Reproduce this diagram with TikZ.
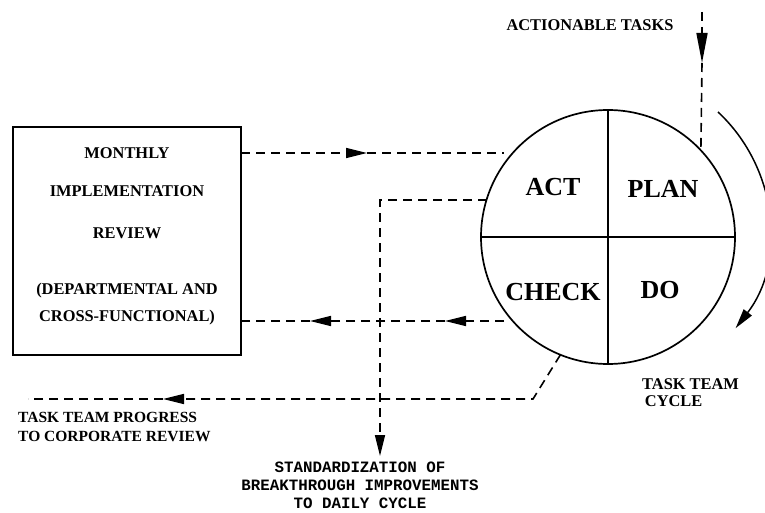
\documentclass[tikz,border=0pt]{standalone}
\usepackage{fontspec}
\setmainfont{Liberation Serif}
\setmonofont{Liberation Mono}
\usetikzlibrary{arrows.meta}
\begin{document}
\begin{tikzpicture}[x=1pt,y=-1pt,
  lbl/.style={font=\fontsize{16.4}{17.5}\selectfont\bfseries, inner sep=0pt},
  big/.style={font=\fontsize{26}{28}\selectfont\bfseries, inner sep=0pt},
  mono/.style={font=\fontsize{15.8}{18}\selectfont\ttfamily\bfseries, inner sep=0pt, align=center},
  dsh/.style={dash pattern=on 9pt off 6pt, line width=1.6pt},
  tip/.style={-{Triangle[length=21pt,width=10pt]}},
  longtip/.style={-{Triangle[length=30pt,width=11pt]}},
  solidline/.style={line width=1.7pt},
]
\clip (0,0) rectangle (765,513);
\useasboundingbox (0,0) rectangle (765,513);

% main shapes
\node[circle, draw, solidline, minimum size=254pt, inner sep=0pt, outer sep=0pt] (pdca) at (608,237) {};
\draw[solidline] (pdca.north) -- (pdca.south);
\draw[solidline] (pdca.west) -- (pdca.east);
\node[draw, line width=1.4pt, minimum width=228pt, minimum height=228pt, inner sep=0pt, outer sep=0pt] (review) at (127,241) {};

% labels in circle
\node[big] (act) at (553,187) {ACT};
\node[big] (plan) at (663,189) {PLAN};
\node[big] (check) at (553,292) {CHECK};
\node[big] (do) at (660,290) {DO};

% box text
\node[lbl, align=center, font=\fontsize{16.4}{27}\selectfont\bfseries] (reviewtxt) at (127,236)
  {MONTHLY\\[11pt] IMPLEMENTATION\\[15pt] REVIEW\\[29pt] (DEPARTMENTAL AND\\ CROSS-FUNCTIONAL)};

% other labels
\node[lbl] (actionable) at (590,25) {ACTIONABLE TASKS};
\node[lbl, align=left, anchor=north west, font=\fontsize{15.5}{19}\selectfont\bfseries] (progress) at (18,412) {TASK TEAM PROGRESS\\TO CORPORATE REVIEW};
\node[lbl, align=left, anchor=north west] (cycle) at (642,378) {TASK TEAM\\\,CYCLE};
\node[mono, anchor=north] (std) at (360,462) {STANDARDIZATION OF\\BREAKTHROUGH IMPROVEMENTS\\TO DAILY CYCLE};

% coordinates
\coordinate (atop) at (702,12);
\coordinate (amid) at (702,63);
\coordinate (m1) at (367,153);
\coordinate (m2a) at (445,321);
\coordinate (m2b) at (310,321);
\coordinate (lend) at (380,456);
\coordinate (pc) at (533,399);
\coordinate (m3) at (163,399);
\coordinate (pend) at (28,399);

% actionable tasks arrow
\draw[dsh, longtip] (atop) -- (amid);
\draw[dsh] (amid) -- (pdca.43);

% review -> circle
\draw[dsh, tip] (review.east |- m1) -- (m1);
\draw[dsh, shorten >=8pt] (m1) -- (pdca.139 |- m1);

% circle -> review
\draw[dsh, tip, shorten <=8pt] (pdca.221 |- m2a) -- (m2a);
\draw[dsh, tip] (m2a) -- (m2b);
\draw[dsh] (m2b) -- (review.east |- m2b);

% standardization
\draw[dsh, tip] (pdca.163) -| (lend);

% progress
\draw[dsh, tip] (pdca.248) -- (pc) -- (m3);
\draw[dsh] (m3) -- (pend);

% task team cycle arrow
\draw[line width=1.5pt, -{Triangle[length=20pt,width=10pt]}] (718,112) arc[start angle=-47, end angle=37.7, radius=161];
\end{tikzpicture}
\end{document}
